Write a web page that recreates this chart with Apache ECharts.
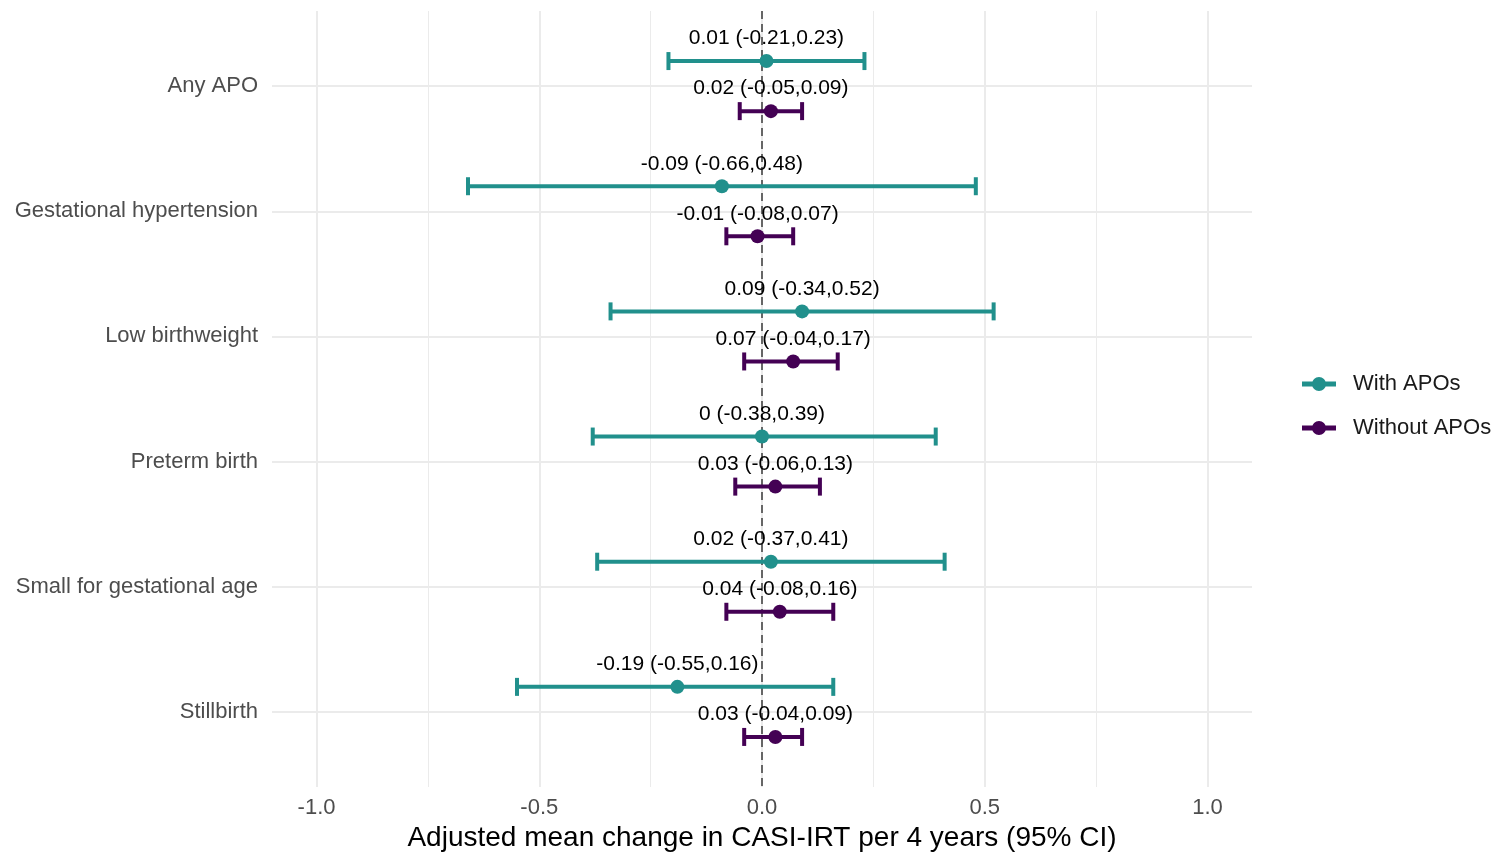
<!DOCTYPE html>
<html>
<head>
<meta charset="utf-8">
<script src="https://cdn.jsdelivr.net/npm/echarts@6/dist/echarts.min.js"></script>
<style>html,body{margin:0;padding:0;background:#fff;}#c{width:1495px;height:853px;}</style>
</head>
<body>
<div id="c"></div>
<script>
const categories = ['Any APO', 'Gestational hypertension', 'Low birthweight', 'Preterm birth', 'Small for gestational age', 'Stillbirth'];
const seriesNames = ['With APOs', 'Without APOs'];
const withEst = [0.01, -0.09, 0.09, 0, 0.02, -0.19];
const withLo = [-0.21, -0.66, -0.34, -0.38, -0.37, -0.55];
const withHi = [0.23, 0.48, 0.52, 0.39, 0.41, 0.16];
const withoutEst = [0.02, -0.01, 0.07, 0.03, 0.04, 0.03];
const withoutLo = [-0.05, -0.08, -0.04, -0.06, -0.08, -0.04];
const withoutHi = [0.09, 0.07, 0.17, 0.13, 0.16, 0.09];
const xTicks = [-1, -0.5, 0, 0.5, 1];
const xMinor = [-0.75, -0.25, 0.25, 0.75];

const colors = ['#21908C', '#440154'];
const dodge = [-0.2, 0.2];
const FONT = '"Liberation Sans", Arial, sans-serif';

function rows(est, lo, hi, k) {
  return est.map((e, i) => [lo[i], hi[i], i + dodge[k], e]);
}
const groups = [rows(withEst, withLo, withHi, 0), rows(withoutEst, withoutLo, withoutHi, 1)];

function errRender(color) {
  return function (params, api) {
    const lo = api.value(0), hi = api.value(1), y = api.value(2);
    const p1 = api.coord([lo, y]);
    const p2 = api.coord([hi, y]);
    const h = 9;
    const st = { stroke: color, lineWidth: 4 };
    return {
      type: 'group',
      children: [
        { type: 'line', shape: { x1: p1[0], y1: p1[1], x2: p2[0], y2: p2[1] }, style: st },
        { type: 'line', shape: { x1: p1[0], y1: p1[1] - h, x2: p1[0], y2: p1[1] + h }, style: st },
        { type: 'line', shape: { x1: p2[0], y1: p2[1] - h, x2: p2[0], y2: p2[1] + h }, style: st }
      ]
    };
  };
}

const series = [];
series.push({
  type: 'line', data: [], silent: true, zlevel: 0, z: 0,
  markLine: {
    silent: true, symbol: 'none', label: { show: false }, animation: false,
    data: [
      ...xMinor.map(v => ({ xAxis: v, lineStyle: { color: '#ebebeb', width: 1, type: 'solid' } })),
      ...xTicks.map(v => ({ xAxis: v, lineStyle: { color: '#ebebeb', width: 2, type: 'solid' } })),
      ...categories.map((c, i) => ({ yAxis: i, lineStyle: { color: '#ebebeb', width: 2, type: 'solid' } })),
      { xAxis: 0, lineStyle: { color: '#666666', width: 2, type: [8, 5] } }
    ]
  }
});
groups.forEach((g, k) => {
  series.push({
    name: seriesNames[k], type: 'custom', renderItem: errRender(colors[k]),
    itemStyle: { color: colors[k] },
    data: g, encode: { x: [0, 1], y: 2 }, zlevel: 1, z: 3, animation: false
  });
  series.push({
    name: seriesNames[k], type: 'scatter', symbol: 'circle', symbolSize: 14,
    itemStyle: { color: colors[k], opacity: 1 }, zlevel: 1, z: 4, animation: false,
    data: g.map(r => [r[3], r[2], r[0], r[1]]),
    label: {
      show: true, position: 'top', distance: 5, color: '#000', fontSize: 21, fontFamily: FONT,
      formatter: p => String(p.value[0]) + ' (' + String(p.value[2]) + ',' + String(p.value[3]) + ')'
    }
  });
});

const legendIcon = 'path://M0,4h34v5h-34z M10,6.5a7,7 0 1,1 14,0a7,7 0 1,1 -14,0z';

const chart = echarts.init(document.getElementById('c'));
chart.setOption({
  backgroundColor: '#ffffff',
  animation: false,
  color: colors,
  textStyle: { fontFamily: FONT },
  grid: { left: 272, right: 243, top: 11, bottom: 66, containLabel: false, outerBoundsMode: 'none' },
  legend: {
    orient: 'vertical', left: 1297, top: 368, itemWidth: 34, itemHeight: 14, itemGap: 22,
    data: seriesNames.map((n, k) => ({ name: n, icon: legendIcon, itemStyle: { color: colors[k] } })),
    textStyle: { fontSize: 22, color: '#1a1a1a', fontFamily: FONT, padding: [0, 0, 0, 12] },
    selectedMode: false
  },
  xAxis: {
    type: 'value', min: -1.1, max: 1.1,
    name: 'Adjusted mean change in CASI-IRT per 4 years (95% CI)',
    nameLocation: 'middle', nameGap: 31,
    nameTextStyle: { fontSize: 28, color: '#000', fontFamily: FONT },
    axisLine: { show: false }, axisTick: { show: false }, splitLine: { show: false },
    axisLabel: {
      customValues: xTicks, margin: 10, fontSize: 22, color: '#4d4d4d', fontFamily: FONT,
      formatter: v => v.toFixed(1)
    }
  },
  yAxis: {
    type: 'value', min: -0.6, max: 5.6, inverse: true,
    axisLine: { show: false }, axisTick: { show: false }, splitLine: { show: false },
    axisLabel: {
      customValues: categories.map((c, i) => i), margin: 14, fontSize: 22, color: '#4d4d4d', fontFamily: FONT,
      formatter: v => categories[Math.round(v)]
    }
  },
  series: series
});
</script>
</body>
</html>
